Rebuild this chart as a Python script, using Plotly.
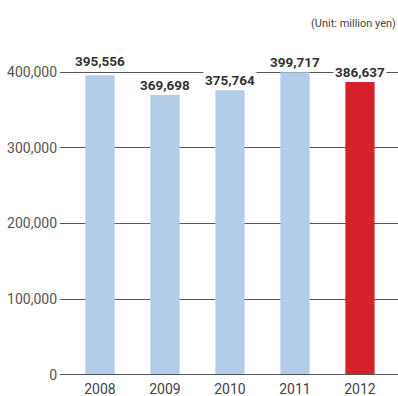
import plotly.graph_objects as go

years = ["2008", "2009", "2010", "2011", "2012"]
values = [395556, 369698, 375764, 399717, 386637]
colors = ["#b3cde9", "#b3cde9", "#b3cde9", "#b3cde9", "#d5212b"]
label_shift = [4, 0, 0, 0, 0]
ytick_vals = [0, 100000, 200000, 300000, 400000]
ytick_text = ["0", "100,000", "200,000", "300,000", "400,000"]

FONT = "Roboto, Arial, sans-serif"

xs = list(range(len(years)))
fig = go.Figure()
fig.add_trace(go.Bar(x=xs, y=values, marker=dict(color=colors, line=dict(width=0)),
                     width=0.45, hoverinfo="skip"))

for i, (v, s) in enumerate(zip(values, label_shift)):
    fig.add_annotation(x=i, y=v, text=f"<b>{v:,}</b>", showarrow=False,
                       yanchor="bottom", yshift=s, bgcolor="white", borderpad=1,
                       font=dict(family=FONT, size=13.5, color="#333333"))

fig.add_annotation(xref="paper", yref="paper", x=1, y=1.0, xanchor="right", yanchor="bottom",
                   text="(Unit: million yen)", showarrow=False, yshift=-2,
                   font=dict(family=FONT, size=11, color="#444444"))

fig.update_layout(
    width=398, height=396,
    margin=dict(l=60, r=0, t=30, b=21),
    paper_bgcolor="white", plot_bgcolor="white",
    showlegend=False,
    xaxis=dict(range=[-0.615, 4.585], tickvals=xs, ticktext=years, showgrid=False,
               zeroline=False, showline=False, ticks="", ticklabelstandoff=4,
               tickfont=dict(family=FONT, size=14, color="#444444")),
    yaxis=dict(range=[0, 455445], tickvals=ytick_vals, ticktext=ytick_text,
               showgrid=True, gridcolor="#555555", gridwidth=1, zeroline=False,
               showline=False, ticks="", ticklabelstandoff=2,
               tickfont=dict(family=FONT, size=14, color="#555555")),
)
fig.add_shape(type="line", xref="paper", yref="y", x0=0, x1=1, y0=0, y1=0,
              line=dict(color="#555555", width=2), layer="above")

fig.write_html("out.html")
